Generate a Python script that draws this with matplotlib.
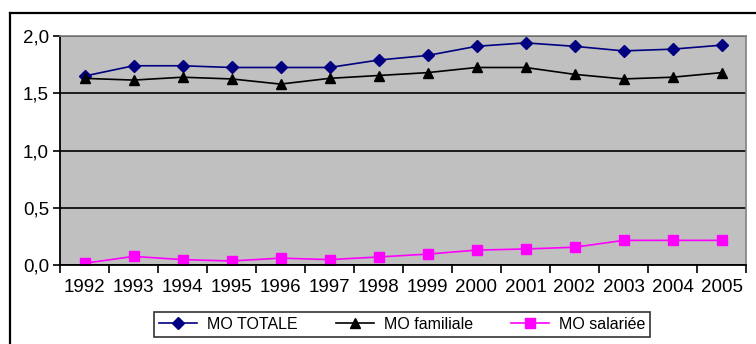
import matplotlib.pyplot as plt
from matplotlib.lines import Line2D
import numpy as np

plt.rcParams['font.family'] = ['Liberation Sans', 'DejaVu Sans']

# Main d'oeuvre par année
annees = ['1992', '1993', '1994', '1995', '1996', '1997', '1998',
          '1999', '2000', '2001', '2002', '2003', '2004', '2005']
mo_totale = [1.65, 1.74, 1.74, 1.725, 1.725, 1.725, 1.79,
             1.83, 1.91, 1.94, 1.91, 1.87, 1.885, 1.92]
mo_familiale = [1.63, 1.615, 1.64, 1.625, 1.58, 1.63, 1.655,
                1.68, 1.725, 1.725, 1.665, 1.625, 1.64, 1.68]
mo_salariee = [0.015, 0.075, 0.047, 0.035, 0.06, 0.047, 0.07,
               0.095, 0.13, 0.14, 0.155, 0.215, 0.215, 0.215]

W, H = 756, 344
fig = plt.figure(figsize=(W / 100, H / 100), dpi=100)
fig.patch.set_facecolor('white')

# cadre du graphique (gauche et haut)
fig.add_artist(Line2D([10 / W, 10 / W], [0, 1 - 13 / H], color='black',
                      linewidth=1.6, transform=fig.transFigure))
fig.add_artist(Line2D([10 / W, 1], [1 - 13 / H, 1 - 13 / H], color='black',
                      linewidth=1.6, transform=fig.transFigure))

ax = fig.add_axes([60 / W, (H - 265) / H, 686 / W, (265 - 36) / H])
ax.set_facecolor('#C0C0C0')

x = np.arange(len(annees))
ax.plot(x, mo_totale, color='#000080', marker='D', markersize=6,
        linewidth=1.2, label='MO TOTALE')
ax.plot(x, mo_familiale, color='black', marker='^', markersize=7.5,
        linewidth=1.2, label='MO familiale')
ax.plot(x, mo_salariee, color='#FF00FF', marker='s', markersize=6.5,
        linewidth=1.2, label='MO salariée')

ax.set_xlim(-0.5, len(annees) - 0.5)
ax.set_ylim(0, 2.0)
ax.set_yticks([0, 0.5, 1.0, 1.5, 2.0])
ax.set_yticklabels(['0,0', '0,5', '1,0', '1,5', '2,0'])
ax.set_xticks(x)
ax.set_xticklabels(annees)
ax.set_xticks(np.arange(-0.5, len(annees)), minor=True)
ax.tick_params(axis='x', which='major', length=0, labelsize=13.5, pad=10)
ax.tick_params(axis='x', which='minor', length=6, width=1.2, direction='out')
ax.tick_params(axis='y', length=5, width=1.2, direction='out', labelsize=13.5, pad=3)

ax.yaxis.grid(True, color='black', linewidth=1.2)
ax.set_axisbelow(True)
for side in ['top', 'right']:
    ax.spines[side].set_color('#808080')
    ax.spines[side].set_linewidth(1.2)
for side in ['left', 'bottom']:
    ax.spines[side].set_color('black')
    ax.spines[side].set_linewidth(1.3)

leg = fig.legend(loc='center', bbox_to_anchor=(402 / W, 19.5 / H), ncol=3,
                 fontsize=11.5, frameon=True, fancybox=False, shadow=False,
                 handlelength=2.4, columnspacing=2.4, borderpad=0.3,
                 handletextpad=0.6)
leg.get_frame().set_edgecolor('black')
leg.get_frame().set_linewidth(1.2)

fig.savefig('out.png', dpi=100)
